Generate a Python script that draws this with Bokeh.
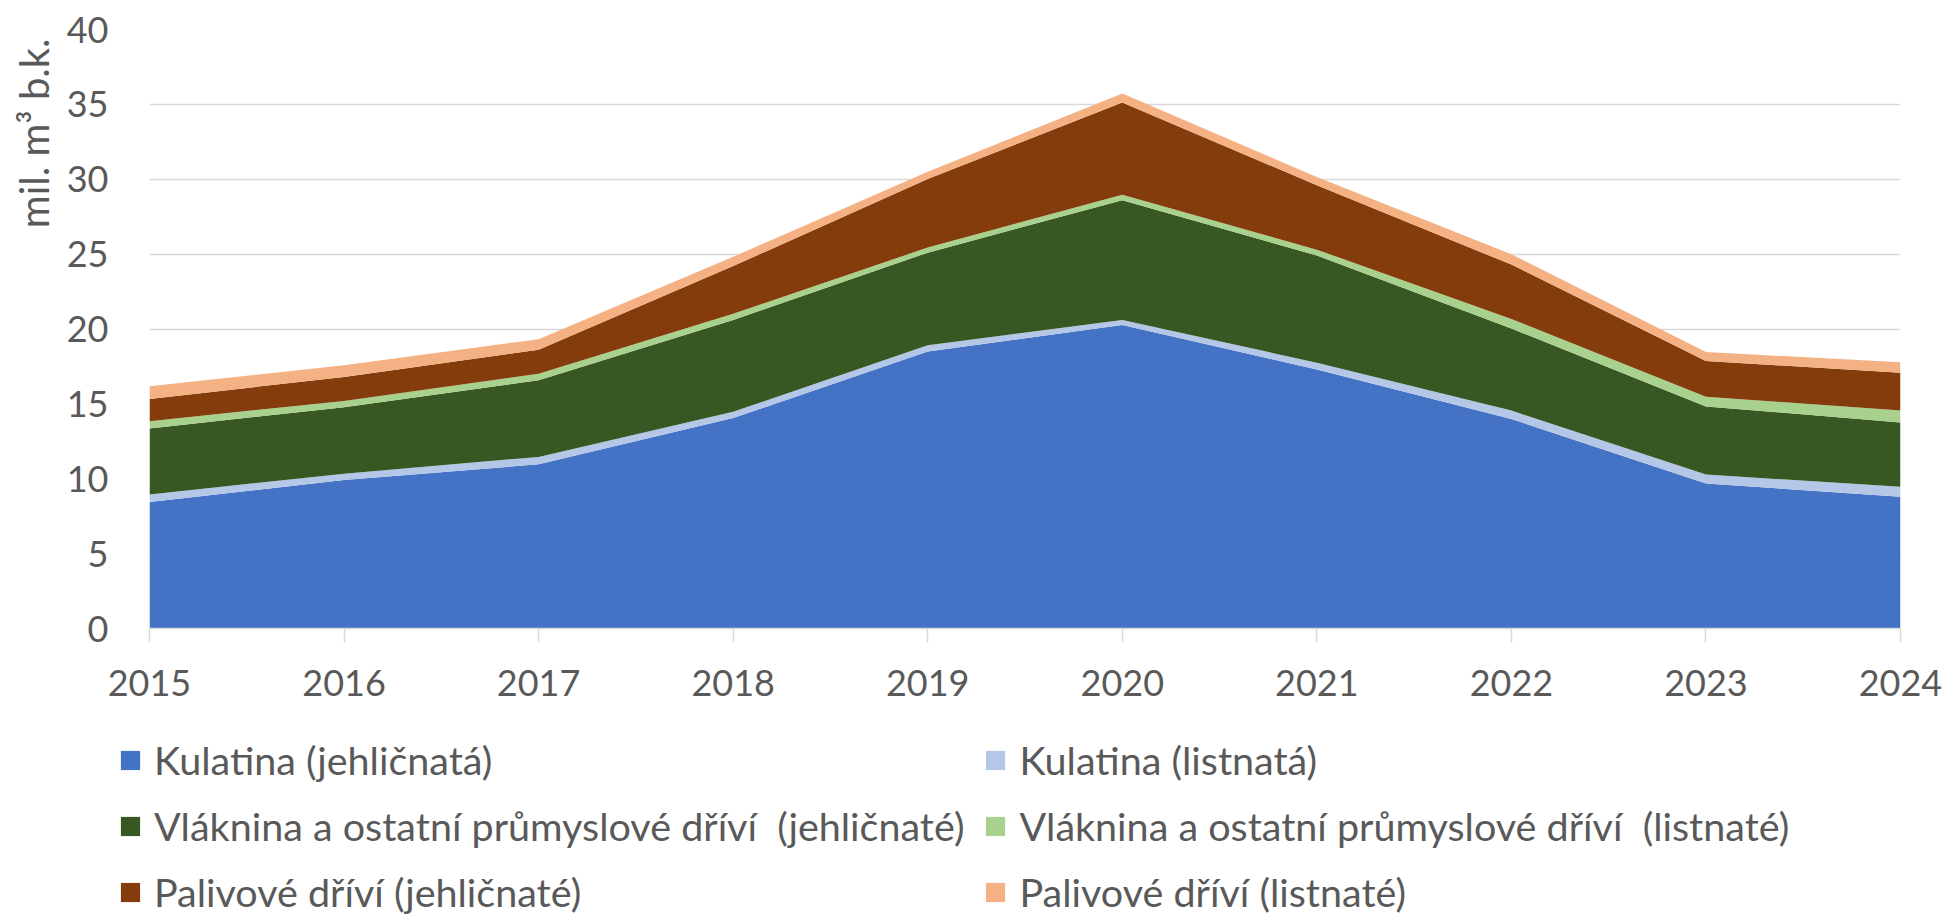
import math
from bokeh.plotting import figure
from bokeh.models import (ColumnDataSource, Range1d, FixedTicker, Legend,
                          LegendItem, Title)
from bokeh.embed import file_html
from bokeh.resources import INLINE

# ---------------- data ----------------
years = [2015, 2016, 2017, 2018, 2019, 2020, 2021, 2022, 2023, 2024]
kulatina_jehl = [8.45, 9.92, 10.96, 14.05, 18.49, 20.26, 17.30, 13.99, 9.69, 8.79]
kulatina_list = [0.50, 0.42, 0.50, 0.42, 0.43, 0.34, 0.45, 0.56, 0.59, 0.68]
vlaknina_jehl = [4.41, 4.44, 5.11, 6.13, 6.18, 8.00, 7.15, 5.48, 4.55, 4.29]
vlaknina_list = [0.48, 0.42, 0.45, 0.42, 0.34, 0.37, 0.40, 0.64, 0.65, 0.79]
palivo_jehl = [1.49, 1.60, 1.60, 3.18, 4.58, 6.15, 4.30, 3.63, 2.39, 2.53]
palivo_list = [0.84, 0.78, 0.70, 0.62, 0.48, 0.60, 0.55, 0.70, 0.59, 0.70]

series_names = [
    "Kulatina (jehličnatá)",
    "Kulatina (listnatá)",
    "Vláknina a ostatní průmyslové dříví  (jehličnaté)",
    "Vláknina a ostatní průmyslové dříví  (listnaté)",
    "Palivové dříví (jehličnaté)",
    "Palivové dříví (listnaté)",
]
series_colors = ["#4472C4", "#B4C7E7", "#385723", "#A9D18E", "#843C0C", "#F4B183"]
y_ticks = [0, 5, 10, 15, 20, 25, 30, 35, 40]
y_title = "mil. m³ b.k."

FONT = "Lato"
TXT = "#595959"
GRID = "#D9D9D9"
FS_TICK = "36px"
FS_LEG = "39.5px"
FS_TITLE = "40px"

keys = ["k_j", "k_l", "v_j", "v_l", "p_j", "p_l"]
source = ColumnDataSource(dict(
    year=years,
    k_j=kulatina_jehl, k_l=kulatina_list,
    v_j=vlaknina_jehl, v_l=vlaknina_list,
    p_j=palivo_jehl, p_l=palivo_list,
))

# ---------------- main chart ----------------
p = figure(frame_width=1751, frame_height=599, output_backend="svg",
           toolbar_location=None,
           x_range=Range1d(2015, 2024), y_range=Range1d(0, 40),
           min_border_left=149, min_border_right=48, min_border_top=29,
           min_border_bottom=84)
p.outline_line_color = None
p.background_fill_color = "white"
p.border_fill_color = "white"

renderers = p.varea_stack(stackers=keys, x="year", color=series_colors, source=source)

xa = p.xaxis[0]
xa.ticker = FixedTicker(ticks=years)
xa.axis_line_color = GRID
xa.axis_line_width = 1.5
xa.major_tick_line_color = GRID
xa.major_tick_line_width = 1.5
xa.major_tick_out = 14
xa.major_tick_in = 0
xa.minor_tick_line_color = None
xa.major_label_standoff = 27
xa.major_label_text_font = FONT
xa.major_label_text_font_size = FS_TICK
xa.major_label_text_color = TXT

ya = p.yaxis[0]
ya.ticker = FixedTicker(ticks=y_ticks)
ya.axis_line_color = None
ya.major_tick_line_color = None
ya.minor_tick_line_color = None
ya.major_tick_out = 0
ya.major_tick_in = 0
ya.major_label_standoff = 41
ya.major_label_text_font = FONT
ya.major_label_text_font_size = FS_TICK
ya.major_label_text_color = TXT

p.xgrid.grid_line_color = None
p.ygrid.ticker = FixedTicker(ticks=y_ticks)
p.ygrid.grid_line_color = GRID
p.ygrid.grid_line_width = 1.5

p.add_layout(Title(text=y_title, align="right", text_font=FONT,
                   text_font_size=FS_TITLE, text_color=TXT,
                   text_font_style="normal", offset=9, standoff=11), "left")

# ---------------- legend strip below the chart (separate root) ----------------
lg = figure(width=1948, height=202, output_backend="svg", toolbar_location=None,
            x_range=Range1d(0, 1), y_range=Range1d(0, 1),
            x_axis_type=None, y_axis_type=None,
            min_border_left=0, min_border_right=0, min_border_top=0,
            min_border_bottom=0)
lg.outline_line_color = None
lg.xgrid.visible = False
lg.ygrid.visible = False

# zero-area stand-ins that only carry each series' colour into the legend
swatches = [lg.varea(x=[0, 0], y1=[0, 0], y2=[0, 0], color=c) for c in series_colors]
order = [0, 2, 4, 1, 3, 5]
items = [LegendItem(label=series_names[i], renderers=[swatches[i]]) for i in order]
legend = Legend(items=items, location=(118, -1), orientation="vertical", nrows=3,
                label_text_font=FONT, label_text_font_size=FS_LEG,
                label_text_color=TXT, glyph_width=24, glyph_height=24,
                label_standoff=12, spacing=19, padding=0, margin=0,
                label_height=47, border_line_color=None,
                background_fill_alpha=0)
lg.add_layout(legend)

open("out.html", "w").write(file_html([p, lg], INLINE))
